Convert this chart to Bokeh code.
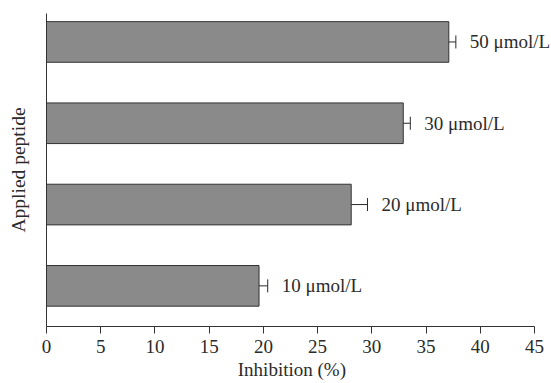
from bokeh.plotting import figure
from bokeh.models import Range1d, FixedTicker, Whisker, TeeHead, ColumnDataSource, LabelSet
from bokeh.embed import file_html
from bokeh.resources import INLINE

# Data
concentrations = ["10 \u03bcmol/L", "20 \u03bcmol/L", "30 \u03bcmol/L", "50 \u03bcmol/L"]
inhibition = [19.6, 28.1, 32.9, 37.1]
errors = [0.8, 1.5, 0.65, 0.65]
x_ticks = [0, 5, 10, 15, 20, 25, 30, 35, 40, 45]
x_title = "Inhibition (%)"
y_title = "Applied peptide"

FONT = "Liberation Serif"
TXT = "#2b2b2b"

pos = [i + 1 for i in range(len(concentrations))]
src = ColumnDataSource(data=dict(
    y=pos,
    v=inhibition,
    lo=[a - b for a, b in zip(inhibition, errors)],
    hi=[a + b for a, b in zip(inhibition, errors)],
    lab=concentrations,
))

# frame spans 0..46.57 so the right-hand labels fit; axis drawn only to 45
p = figure(width=551, height=383, output_backend="svg", toolbar_location=None,
           x_range=Range1d(0, 46.57), y_range=Range1d(0.5, 4.35),
           min_border_left=46, min_border_right=0, min_border_top=13, min_border_bottom=57)
p.outline_line_color = None
p.xgrid.visible = False
p.ygrid.visible = False
p.background_fill_color = "white"
p.border_fill_color = "white"

p.hbar(y="y", right="v", left=0, height=0.5, source=src,
       fill_color="#8a8a8a", line_color="#333333", line_width=1)

w = Whisker(source=src, base="y", lower="lo", upper="hi", dimension="width",
            line_color="#2a2a2a", line_width=1,
            lower_head=TeeHead(size=13, line_color="#2a2a2a", line_width=1),
            upper_head=TeeHead(size=13, line_color="#2a2a2a", line_width=1))
p.add_layout(w)

labels = LabelSet(x="hi", y="y", text="lab", source=src, x_offset=14,
                  text_font=FONT, text_font_size="19px", text_color=TXT,
                  text_baseline="middle", text_align="left")
p.add_layout(labels)

# x axis
xa = p.xaxis[0]
xa.bounds = (0, 45)
xa.ticker = FixedTicker(ticks=x_ticks)
xa.axis_label = x_title + "\u00a0\u00a0\u00a0"
xa.axis_label_text_font = FONT
xa.axis_label_text_font_style = "normal"
xa.axis_label_text_font_size = "19px"
xa.axis_label_text_color = TXT
xa.axis_label_standoff = 3
xa.major_label_text_font = FONT
xa.major_label_text_font_size = "19px"
xa.major_label_text_color = TXT
xa.major_label_standoff = 6
xa.major_tick_in = 0
xa.major_tick_out = 7
xa.minor_tick_out = 0
xa.minor_tick_in = 0
xa.axis_line_color = "#333333"
xa.major_tick_line_color = "#333333"

# y axis
ya = p.yaxis[0]
ya.ticker = FixedTicker(ticks=[])
ya.axis_label = y_title
ya.axis_label_text_font = FONT
ya.axis_label_text_font_style = "normal"
ya.axis_label_text_font_size = "19.5px"
ya.axis_label_text_color = TXT
ya.axis_label_standoff = 18
ya.major_tick_in = 0
ya.major_tick_out = 0
ya.minor_tick_out = 0
ya.minor_tick_in = 0
ya.axis_line_color = "#333333"

open("out.html", "w").write(file_html(p, INLINE))
